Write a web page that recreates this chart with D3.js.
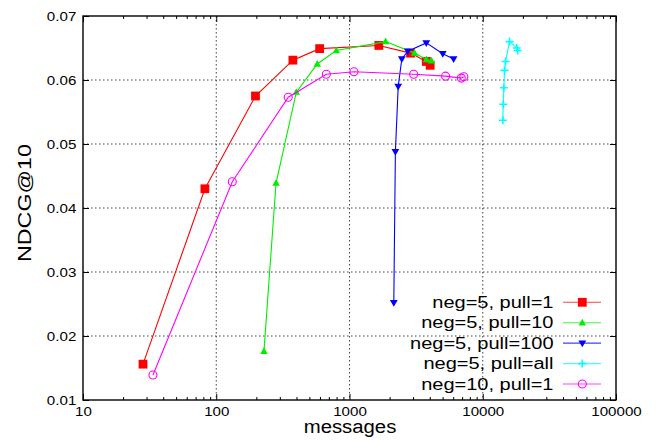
<!DOCTYPE html>
<html>
<head>
<meta charset="utf-8">
<script src="https://cdn.jsdelivr.net/npm/d3@7"></script>
<style>
  html, body { margin: 0; padding: 0; background: #fff; }
  svg { display: block; font-family: "Liberation Sans", Arial, sans-serif; }
</style>
</head>
<body>
<svg id="chart" width="657" height="440"></svg>
<script>
// ---- data ----
const xTickValues = [10, 100, 1000, 10000, 100000];
const xTickLabels = ["10", "100", "1000", "10000", "100000"];
const yTickValues = [0.01, 0.02, 0.03, 0.04, 0.05, 0.06, 0.07];
const yTickLabels = ["0.01", "0.02", "0.03", "0.04", "0.05", "0.06", "0.07"];
const xLabel = "messages";
const yLabel = "NDCG@10";

const seriesNames = ["neg=5, pull=1", "neg=5, pull=10", "neg=5, pull=100", "neg=5, pull=all", "neg=10, pull=1"];

const neg5pull1X = [28.2, 82.2, 197, 376, 597, 1660, 2870, 3770, 4030];
const neg5pull1Y = [0.0156, 0.0430, 0.0575, 0.0631, 0.0649, 0.0654, 0.0642, 0.0629, 0.0623];

const neg5pull10X = [228, 281, 399, 573, 796, 1866, 3077, 3780, 4130];
const neg5pull10Y = [0.0176, 0.0439, 0.0581, 0.0625, 0.0646, 0.0660, 0.0642, 0.0632, 0.0630];

const neg5pull100X = [2150, 2210, 2320, 2470, 2740, 3770, 5010, 6040];
const neg5pull100Y = [0.0252, 0.0488, 0.0590, 0.0633, 0.0645, 0.0658, 0.0641, 0.0633];

const neg5pullAllX = [14150, 14250, 14400, 14580, 14830, 15900, 18000, 18300];
const neg5pullAllY = [0.0537, 0.0562, 0.0588, 0.0615, 0.0629, 0.0660, 0.0650, 0.0646];

const neg10pull1X = [33.5, 132, 347, 670, 1080, 3030, 5260, 6900, 7210];
const neg10pull1Y = [0.0139, 0.0441, 0.0573, 0.0609, 0.0613, 0.0609, 0.0606, 0.0603, 0.0605];

// ---- styling ----
const colors = ["#ff0000", "#00ee00", "#0000ff", "#00ffff", "#ff00ff"];
const shapes = ["square", "triUp", "triDown", "plus", "circle"];

const seriesX = [neg5pull1X, neg5pull10X, neg5pull100X, neg5pullAllX, neg10pull1X];
const seriesY = [neg5pull1Y, neg5pull10Y, neg5pull100Y, neg5pullAllY, neg10pull1Y];
const series = seriesNames.map((name, i) => ({
  name, color: colors[i], shape: shapes[i],
  points: seriesX[i].map((xv, j) => ({ x: xv, y: seriesY[i][j] }))
}));

const L = 83, R = 616, T = 16, B = 400;
const svg = d3.select("#chart");
const x = d3.scaleLog().domain([10, 100000]).range([L, R]);
const y = d3.scaleLinear().domain([0.01, 0.07]).range([B, T]);

// grid
const grid = svg.append("g").attr("stroke", "#111").attr("stroke-width", 0.8)
  .attr("stroke-dasharray", "1.5,2.5").attr("fill", "none");
grid.selectAll("line.gx").data(xTickValues.slice(1, -1)).join("line")
  .attr("x1", d => x(d)).attr("x2", d => x(d)).attr("y1", T).attr("y2", B);
grid.selectAll("line.gy").data(yTickValues.slice(1, -1)).join("line")
  .attr("x1", L).attr("x2", R).attr("y1", d => y(d)).attr("y2", d => y(d));

// axes
const minorX = x.ticks().filter(d => !xTickValues.includes(d));
function styleAxis(g) {
  g.select(".domain").remove();
  g.selectAll(".tick line").attr("stroke", "#000").attr("stroke-width", 1);
}
svg.append("g").attr("transform", `translate(0,${B})`)
  .call(d3.axisBottom(x).tickValues(xTickValues).tickFormat((d, i) => xTickLabels[i]).tickSize(-6).tickPadding(6))
  .call(styleAxis)
  .call(g => g.selectAll("text").attr("font-size", 13.5).attr("fill", "#000")
    .attr("font-family", "Liberation Sans, Arial, sans-serif").attr("transform", "scale(1.12,1)"));
svg.append("g").attr("transform", `translate(0,${B})`)
  .call(d3.axisBottom(x).tickValues(minorX).tickFormat("").tickSize(-3))
  .call(styleAxis);
svg.append("g").attr("transform", `translate(0,${T})`)
  .call(d3.axisTop(x).tickValues(xTickValues).tickFormat("").tickSize(-6))
  .call(styleAxis);
svg.append("g").attr("transform", `translate(0,${T})`)
  .call(d3.axisTop(x).tickValues(minorX).tickFormat("").tickSize(-3))
  .call(styleAxis);
svg.append("g").attr("transform", `translate(${L},0)`)
  .call(d3.axisLeft(y).tickValues(yTickValues).tickFormat((d, i) => yTickLabels[i]).tickSize(-6).tickPadding(6))
  .call(styleAxis)
  .call(g => g.selectAll("text").attr("font-size", 13.5).attr("fill", "#000")
    .attr("font-family", "Liberation Sans, Arial, sans-serif").attr("transform", "scale(1.12,1)"));
svg.append("g").attr("transform", `translate(${R},0)`)
  .call(d3.axisRight(y).tickValues(yTickValues).tickFormat("").tickSize(-6))
  .call(styleAxis);

// frame
svg.append("rect").attr("x", L).attr("y", T).attr("width", R - L).attr("height", B - T)
  .attr("fill", "none").attr("stroke", "#000").attr("stroke-width", 1.4);

// axis labels
svg.append("text").attr("transform", "translate(350,433) scale(1.13,1)")
  .attr("text-anchor", "middle").attr("font-size", 18).attr("fill", "#000").text(xLabel);
svg.append("text").attr("transform", "translate(31,203) rotate(-90) scale(1.33,1)")
  .attr("text-anchor", "middle").attr("font-size", 17.5).attr("fill", "#000").text(yLabel);

// markers
function drawMarker(g, shape, color, cx, cy) {
  if (shape === "square") {
    g.append("rect").attr("x", cx - 4.4).attr("y", cy - 4.4).attr("width", 8.8).attr("height", 8.8).attr("fill", color);
  } else if (shape === "triUp") {
    g.append("path").attr("d", `M${cx},${cy - 4} L${cx + 3.7},${cy + 2.7} L${cx - 3.7},${cy + 2.7} Z`).attr("fill", color);
  } else if (shape === "triDown") {
    g.append("path").attr("d", `M${cx},${cy + 4} L${cx + 3.9},${cy - 2.7} L${cx - 3.9},${cy - 2.7} Z`).attr("fill", color);
  } else if (shape === "plus") {
    g.append("path").attr("d", `M${cx - 4},${cy} H${cx + 4} M${cx},${cy - 4} V${cy + 4}`)
      .attr("stroke", color).attr("stroke-width", 1.6).attr("fill", "none");
  } else if (shape === "circle") {
    g.append("circle").attr("cx", cx).attr("cy", cy).attr("r", 4).attr("fill", "none")
      .attr("stroke", color).attr("stroke-width", 1.1);
  }
}

const line = d3.line().x(d => x(d.x)).y(d => y(d.y));
series.forEach(s => {
  const g = svg.append("g");
  g.append("path").datum(s.points).attr("d", line).attr("fill", "none")
    .attr("stroke", s.color).attr("stroke-width", 1.1);
  s.points.forEach(p => drawMarker(g, s.shape, s.color, x(p.x), y(p.y)));
});

// legend
const legendRowY = d3.scaleLinear().domain([0, 4]).range([302.3, 384]);
series.forEach((s, i) => {
  const ry = legendRowY(i);
  const g = svg.append("g");
  g.append("text").attr("transform", `translate(553.5,${ry + 5.5}) scale(1.25,1)`)
    .attr("text-anchor", "end").attr("font-size", 16).attr("fill", "#000").text(s.name);
  g.append("line").attr("x1", 563).attr("x2", 601).attr("y1", ry).attr("y2", ry)
    .attr("stroke", s.color).attr("stroke-width", 1.1).attr("stroke-opacity", 0.75);
  drawMarker(g, s.shape, s.color, 582.3, ry);
});
</script>
</body>
</html>
